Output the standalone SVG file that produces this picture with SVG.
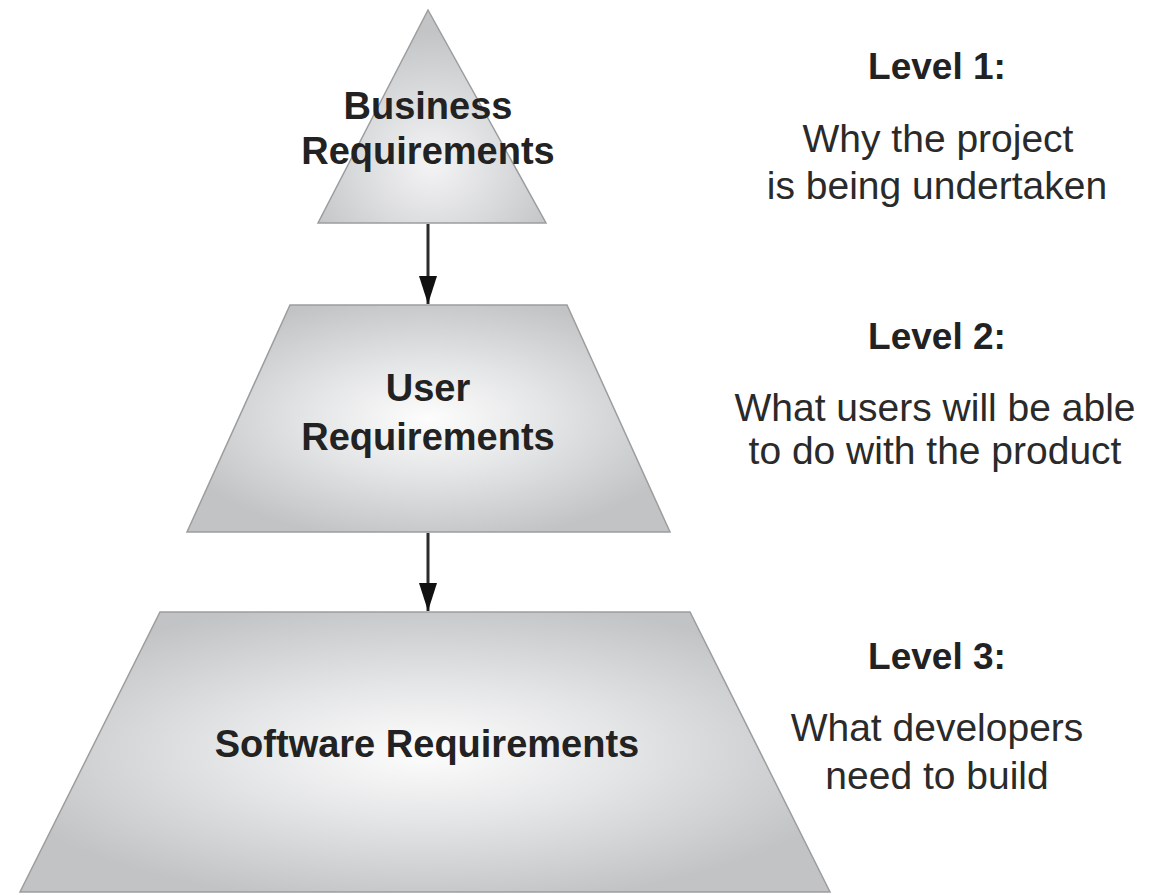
<svg xmlns="http://www.w3.org/2000/svg" width="1164" height="895" viewBox="0 0 1164 895">
  <style>
    .tier { stroke: #9c9d9f; stroke-width: 1.5; stroke-linejoin: miter; }
    .label { font-family: "Liberation Sans", Arial, Helvetica, sans-serif; font-weight: bold; font-size: 38px; fill: #222; text-anchor: middle; }
    .head { font-family: "Liberation Sans", Arial, Helvetica, sans-serif; font-weight: bold; font-size: 37px; fill: #222; text-anchor: middle; }
    .desc { font-family: "Liberation Sans", Arial, Helvetica, sans-serif; font-size: 39px; fill: #2a2a2a; text-anchor: middle; }
    .link { stroke: #2b2b2b; stroke-width: 3; fill: none; }
  </style>
  <defs>
    <radialGradient id="glow" cx="0.5" cy="0.5" r="0.55" fx="0.5" fy="0.5">
      <stop offset="0" stop-color="#fdfdfd"/>
      <stop offset="0.45" stop-color="#e4e5e6"/>
      <stop offset="1" stop-color="#c2c3c5"/>
    </radialGradient>
    <radialGradient id="glowTop" cx="0.5" cy="0.7" r="0.6" fx="0.5" fy="0.72">
      <stop offset="0" stop-color="#f4f4f5"/>
      <stop offset="0.5" stop-color="#dcdddf"/>
      <stop offset="1" stop-color="#c3c4c6"/>
    </radialGradient>
    <!-- arrowhead drawn along +x so orient="auto" points it down the line -->
    <marker id="arrowhead" viewBox="0 0 28 18" refX="28" refY="9" markerWidth="28" markerHeight="18" markerUnits="userSpaceOnUse" orient="auto">
      <path d="M0,0 L28,9 L0,18 Z" fill="#111"/>
    </marker>
  </defs>

  <rect width="1164" height="895" fill="#ffffff"/>

  <!-- Level 1 tier -->
  <g id="business">
    <polygon class="tier" fill="url(#glowTop)" points="428,10 546,223 318,223"/>
    <text class="label" x="428" y="119">Business</text>
    <text class="label" x="428" y="164">Requirements</text>
  </g>

  <!-- Level 2 tier -->
  <g id="user">
    <polygon class="tier" fill="url(#glow)" points="290,305 567,305 670,532 187,532"/>
    <text class="label" x="428" y="401">User</text>
    <text class="label" x="428" y="450">Requirements</text>
  </g>

  <!-- Level 3 tier -->
  <g id="software">
    <polygon class="tier" fill="url(#glow)" points="160,612 690,612 830,892 20,892"/>
    <text class="label" x="427" y="757">Software Requirements</text>
  </g>

  <!-- connectors between tiers -->
  <g id="connectors">
    <line class="link" x1="428" y1="224" x2="428" y2="304" marker-end="url(#arrowhead)"/>
    <line class="link" x1="428" y1="533" x2="428" y2="611" marker-end="url(#arrowhead)"/>
  </g>

  <!-- level descriptions -->
  <g id="level1">
    <text class="head" x="937" y="79">Level 1:</text>
    <text class="desc" x="938" y="152">Why the project</text>
    <text class="desc" x="937" y="199">is being undertaken</text>
  </g>
  <g id="level2">
    <text class="head" x="937" y="349">Level 2:</text>
    <text class="desc" x="935" y="421">What users will be able</text>
    <text class="desc" x="935" y="464">to do with the product</text>
  </g>
  <g id="level3">
    <text class="head" x="937" y="669">Level 3:</text>
    <text class="desc" x="937" y="741">What developers</text>
    <text class="desc" x="937" y="789">need to build</text>
  </g>
</svg>
